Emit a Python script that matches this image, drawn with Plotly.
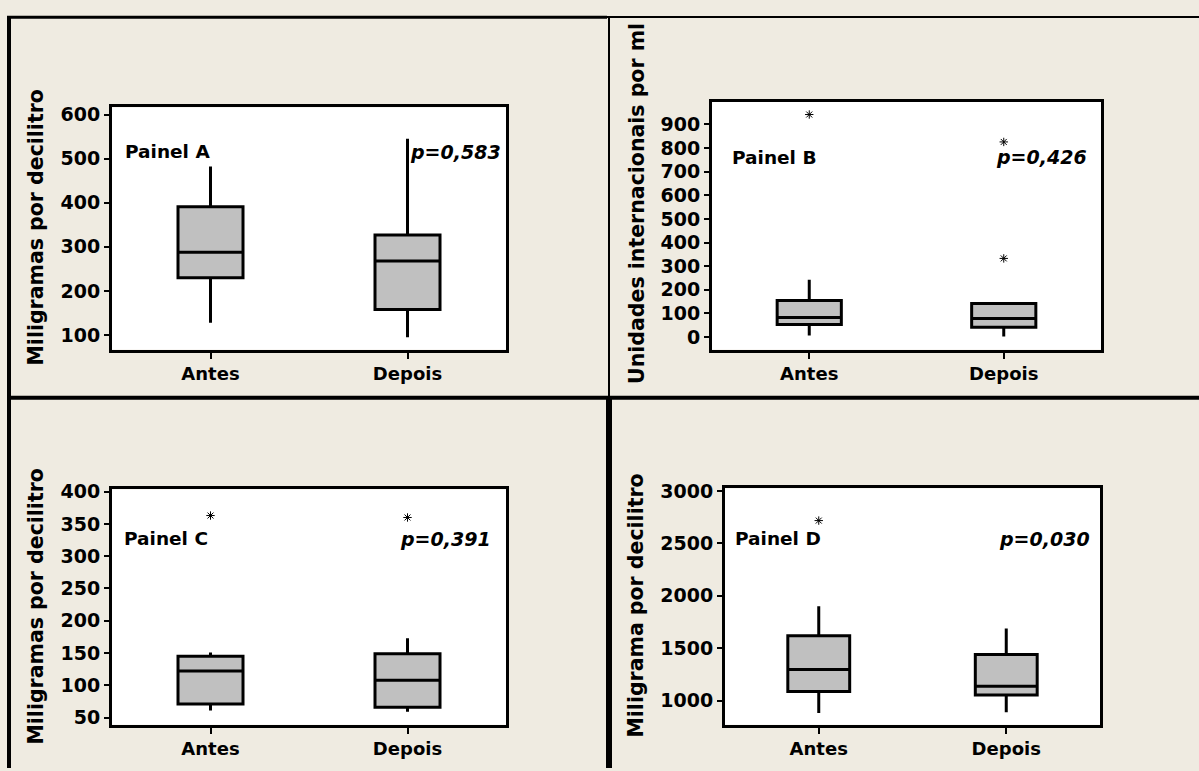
import plotly.graph_objects as go

W, H = 1199, 771
BG = "#EFEBE1"
FONT = "DejaVu Sans"

categories = ["Antes", "Depois"]

# Panel A (mg/dL)
a_lower = [128, 95]
a_q1 = [230, 158]
a_median = [288, 268]
a_q3 = [391, 327]
a_upper = [482, 545]
a_out_x = []
a_out_y = []

# Panel B (UI/ml)
b_lower = [7, 3]
b_q1 = [53, 42]
b_median = [83, 79]
b_q3 = [155, 142]
b_upper = [243, 145]
b_out_x = ["Antes", "Depois", "Depois"]
b_out_y = [942, 826, 333]

# Panel C (mg/dL)
c_lower = [61, 59]
c_q1 = [71, 66]
c_median = [122, 108]
c_q3 = [145, 149]
c_upper = [151, 173]
c_out_x = ["Antes", "Depois"]
c_out_y = [363, 360]

# Panel D (mg/dL)
d_lower = [881, 888]
d_q1 = [1086, 1054]
d_median = [1296, 1138]
d_q3 = [1619, 1440]
d_upper = [1901, 1688]
d_out_x = ["Antes"]
d_out_y = [2718]

y_titles = ["Miligramas por decilitro", "Unidades internacionais por ml",
            "Miligramas por decilitro", "Miligrama por decilitro"]
panel_labels = ["Painel A", "Painel B", "Painel C", "Painel D"]
p_values = ["p=0,583", "p=0,426", "p=0,391", "p=0,030"]
y_ranges = [[67, 616], [-53, 997], [39, 403.5], [770, 3025]]
y_ticks = [list(range(100, 601, 100)), list(range(0, 901, 100)),
           list(range(50, 401, 50)), list(range(1000, 3001, 500))]


def px(x):
    return x / W


def py(y):
    return 1 - y / H


# plot-area pixel boxes: left, right, top, bottom
areas = [(112, 506, 100, 346), (712, 1101, 94, 346),
         (112, 506, 488, 727), (725, 1100, 487, 727)]
title_pos = [(36, 222), (637, 198), (36, 607), (636, 606)]
label_pos = [(123, 145), (730, 151), (122, 538), (733, 538)]
pval_pos = [(503, 145), (1089, 150), (493, 538), (1092, 538)]

stats = [
    (a_lower, a_q1, a_median, a_q3, a_upper, a_out_x, a_out_y),
    (b_lower, b_q1, b_median, b_q3, b_upper, b_out_x, b_out_y),
    (c_lower, c_q1, c_median, c_q3, c_upper, c_out_x, c_out_y),
    (d_lower, d_q1, d_median, d_q3, d_upper, d_out_x, d_out_y),
]

fig = go.Figure()
layout = {}
annotations = []

for i, (lo, q1, med, q3, up, ox, oy) in enumerate(stats):
    n = "" if i == 0 else str(i + 1)
    xa, ya = "x" + n, "y" + n
    fig.add_trace(go.Box(
        x=categories, q1=q1, median=med, q3=q3,
        lowerfence=lo, upperfence=up,
        xaxis=xa, yaxis=ya,
        fillcolor="#C0C0C0", line=dict(color="black", width=3),
        whiskerwidth=0, width=0.33, boxpoints=False,
        showlegend=False, hoverinfo="skip",
    ))
    if ox:
        fig.add_trace(go.Scatter(
            x=ox, y=oy, mode="markers", xaxis=xa, yaxis=ya,
            marker=dict(symbol="asterisk-open", size=7,
                        line=dict(color="black", width=1), color="black"),
            showlegend=False, hoverinfo="skip",
        ))
    l, r, t, b = areas[i]
    layout["xaxis" + n] = dict(
        domain=[px(l), px(r)], anchor=ya, type="category",
        categoryorder="array", categoryarray=categories,
        range=[-0.5, 1.5], showline=True, mirror=True, linecolor="black",
        linewidth=3, ticks="outside", ticklen=6, tickwidth=2, tickcolor="black",
        tickfont=dict(family=FONT, size=18, color="black", weight="bold"),
        showgrid=False, zeroline=False, fixedrange=True,
    )
    layout["yaxis" + n] = dict(
        domain=[py(b), py(t)], anchor=xa, range=y_ranges[i],
        tickvals=y_ticks[i], showline=True, mirror=True, linecolor="black",
        linewidth=3, ticks="outside", ticklen=5, tickwidth=2, tickcolor="black",
        tickfont=dict(family=FONT, size=19, color="black", weight="bold"),
        showgrid=False, zeroline=False, fixedrange=True,
    )
    tx, ty = title_pos[i]
    annotations.append(dict(
        text="<b>" + y_titles[i] + "</b>", x=px(tx), y=py(ty),
        xref="paper", yref="paper", textangle=-90, showarrow=False,
        xanchor="center", yanchor="middle",
        font=dict(family=FONT, size=20.5, color="black"),
    ))
    lx, ly = label_pos[i]
    annotations.append(dict(
        text="<b>" + panel_labels[i] + "</b>", x=px(lx), y=py(ly),
        xref="paper", yref="paper", showarrow=False,
        xanchor="left", yanchor="middle",
        font=dict(family=FONT, size=18.5, color="black"),
    ))
    vx, vy = pval_pos[i]
    annotations.append(dict(
        text="<b><i>" + p_values[i] + "</i></b>", x=px(vx), y=py(vy),
        xref="paper", yref="paper", showarrow=False,
        xanchor="right", yanchor="middle",
        font=dict(family=FONT, size=19, color="black"),
    ))

# panel frame lines (pixel positions)
frame = [
    (9, 8, 9, 771, 4),
    (7, 8.5, 607, 8.5, 3),
    (607, 8, 1199, 8, 2),
    (609, 8, 609, 395, 2),
    (7, 395, 1199, 395, 4),
    (609, 395, 609, 771, 6),
]
shapes = [dict(type="line", xref="paper", yref="paper",
               x0=px(x0), y0=py(y0), x1=px(x1), y1=py(y1),
               line=dict(color="black", width=w), layer="above")
          for x0, y0, x1, y1, w in frame]

fig.update_layout(
    width=W, height=H, margin=dict(l=0, r=0, t=0, b=0),
    paper_bgcolor=BG, plot_bgcolor="white",
    annotations=annotations, shapes=shapes, **layout,
)

fig.write_html(
    "out.html",
    config={"displayModeBar": False},
    post_script=(
        "document.documentElement.style.margin='0';"
        "document.body.style.margin='0';"
        "document.body.style.overflow='hidden';"
        "var d=document.getElementById('{plot_id}');"
        "d.style.position='fixed';d.style.top='0px';d.style.left='0px';"
    ),
)
